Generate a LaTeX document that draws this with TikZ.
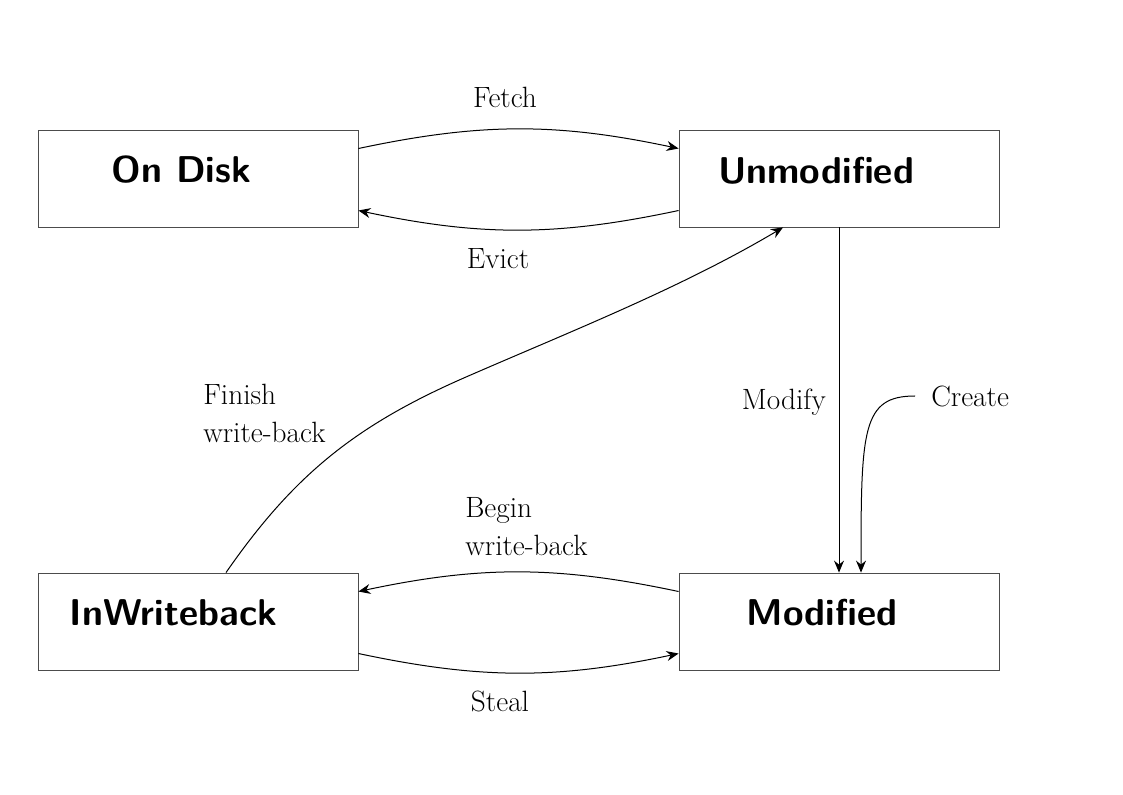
\documentclass[tikz,border=0pt]{standalone}
\usepackage{fontspec}
\usetikzlibrary{arrows.meta,calc}
\begin{document}
\begin{tikzpicture}[x=0.75pt,y=0.75pt,
  state/.style={draw=black!70, line width=0.65pt, minimum width=240pt, minimum height=72.75pt, inner sep=0pt},
  stname/.style={font=\sffamily\bfseries\fontsize{28}{34}\selectfont, inner sep=0pt, anchor=base},
  lbl/.style={font=\fontsize{22}{28.3}\selectfont, inner sep=0pt},
  arr/.style={-{Stealth[length=9pt,width=7.5pt,inset=3pt]}, line width=0.75pt},
]
\useasboundingbox (0,0) rectangle (1123,-794);
% states
\node[state] (disk)  at (198,-178.5) {};
\node[state] (unmod) at (839,-178.5) {};
\node[state] (inwb)  at (198,-621.5) {};
\node[state] (mod)   at (839,-621.5) {};
\node[stname] (tdisk)  at (181.5,-182) {On Disk};
\node[stname] (tunmod) at (816,-183) {Unmodified};
\node[stname] (tinwb)  at (173.5,-625) {InWriteback};
\node[stname] (tmod)   at (822,-625) {Modified};
% labels
\node[lbl, anchor=base] (fetch) at (505,-107) {Fetch};
\node[lbl, anchor=base] (evict) at (498,-268) {Evict};
\node[lbl, anchor=base] (steal) at (500,-711) {Steal};
\node[lbl, anchor=base east] (modify) at (826,-409) {Modify};
\node[lbl, anchor=base west] (create) at (931,-406) {Create};
\node[lbl, anchor=base west, align=left] (finish) at (203,-442) {Finish\\write-back};
\node[lbl, anchor=base west, align=left] (begin) at (465,-555) {Begin\\write-back};
\coordinate (fwmid) at (466,-377);
% transitions
\draw[arr] ($(disk.east)+(0,30)$) to[bend left=12] ($(unmod.west)+(0,30)$);
\draw[arr] ($(unmod.west)+(0,-32)$) to[bend left=12] ($(disk.east)+(0,-32)$);
\draw[arr] ($(mod.west)+(0,30)$) to[bend right=12] ($(inwb.east)+(0,30)$);
\draw[arr] ($(inwb.east)+(0,-32)$) to[bend right=12] ($(mod.west)+(0,-32)$);
\draw[arr] (unmod.south) -- (mod.north);
\draw[arr] ($(create.west)+(-16,0)$) .. controls +(-53,0) and +(0,143) .. ($(mod.north)+(22,0)$);
\draw[arr] ($(inwb.north)+(28,0)$) .. controls +(68,98) and +(-110,-48) .. (fwmid)
  .. controls +(108,47) and +(-101,-60) .. ($(unmod.south)+(-56,0)$);
\end{tikzpicture}
\end{document}
